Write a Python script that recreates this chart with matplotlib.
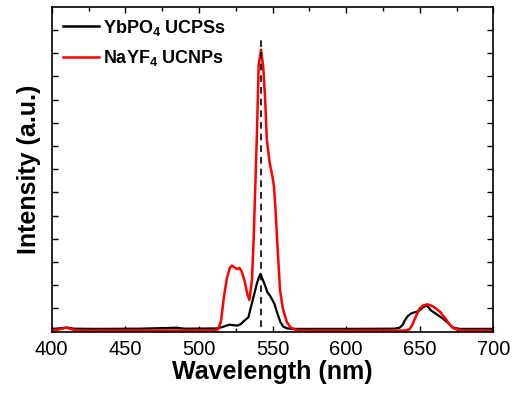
import numpy as np
import matplotlib
matplotlib.use("Agg")
from matplotlib import pyplot as plt

plt.rcParams['font.family'] = ['Liberation Sans', 'DejaVu Sans']
plt.rcParams['mathtext.fontset'] = 'custom'
plt.rcParams['mathtext.rm'] = 'Liberation Sans'
plt.rcParams['mathtext.bf'] = 'Liberation Sans:bold'

# YbPO4 UCPSs spectrum (black)
ybpo4_wl = [400, 405, 410, 415, 430, 460, 485, 490, 512, 516, 519, 521, 523.5, 526, 528.5,
            531.3, 533.6, 535.9, 537.5, 539.3, 540.5, 541.8, 543, 544.9, 546.5, 548.3,
            549.8, 551.3, 552.5, 554, 555.5, 557.3, 560, 565, 600, 633, 636.6, 638.5, 640,
            642, 644.6, 647, 649, 651, 652.4, 654.5, 656, 657.5, 659.2, 661, 663.8, 666,
            668.3, 670.5, 672.8, 677.4, 700]
ybpo4_int = [0.12, 0.14, 0.18, 0.13, 0.12, 0.13, 0.17, 0.13, 0.14, 0.2, 0.27, 0.3, 0.28,
             0.26, 0.33, 0.5, 0.62, 1.2, 1.6, 2.05, 2.3, 2.49, 2.3, 2.0, 1.7, 1.55, 1.38,
             1.2, 0.95, 0.65, 0.4, 0.22, 0.14, 0.12, 0.12, 0.13, 0.18, 0.3, 0.5, 0.68, 0.8,
             0.84, 0.88, 0.98, 1.06, 1.12, 1.05, 0.92, 0.85, 0.77, 0.65, 0.55, 0.43, 0.3,
             0.17, 0.12, 0.12]

# NaYF4 UCNPs spectrum (red)
nayf4_wl = [400, 405, 410, 415, 420, 510, 513, 515, 517, 519, 521, 522.5, 524, 526, 527.5,
            529, 531, 533, 534.3, 536, 537.2, 539.3, 540.6, 542.2, 543.7, 545, 546.1, 548,
            549.9, 551, 552, 553.1, 554, 555.1, 557, 559.6, 562, 566, 570, 640, 643, 645, 647,
            650, 652, 654.8, 657, 659.2, 661, 663.8, 666, 668.3, 670, 672.8, 677, 680, 700]
nayf4_int = [0.05, 0.1, 0.17, 0.08, 0.05, 0.05, 0.1, 0.45, 1.5, 2.3, 2.75, 2.85, 2.78, 2.7,
             2.75, 2.6, 2.2, 1.6, 1.37, 2.2, 4.0, 8.3, 11.5, 12.15, 11.4, 10.0, 8.3, 7.3,
             6.7, 6.25, 5.3, 4.0, 3.0, 1.8, 1.0, 0.43, 0.2, 0.07, 0.05, 0.05, 0.1, 0.3, 0.6,
             1.0, 1.12, 1.18, 1.15, 1.08, 1.0, 0.86, 0.68, 0.5, 0.33, 0.15, 0.07, 0.05, 0.05]

peak_wl = 542

fig = plt.figure(figsize=(5.12, 3.98), dpi=100)
ax = fig.add_axes([0.101, 0.1666, 0.8625, 0.8164])

ax.plot(ybpo4_wl, ybpo4_int, color='black', lw=1.6, label=r'YbPO$_{\mathbf{4}}$ UCPSs')
ax.plot(nayf4_wl, nayf4_int, color='#ff0000', lw=1.8, label=r'NaYF$_{\mathbf{4}}$ UCNPs')
ax.plot([peak_wl, peak_wl], [0.2, 12.6], color='black', lw=1.2, ls=(0, (4, 3)))

ax.set_xlim(400, 700)
ax.set_ylim(0, 14)
ax.set_xticks(np.arange(400, 701, 50))
ax.set_xticks(np.arange(425, 700, 50), minor=True)
ax.set_yticks(np.arange(1, 14, 1))
ax.set_yticklabels([])
ax.tick_params(which='both', direction='in', top=True, right=True, width=1.0)
ax.tick_params(which='major', length=4, labelsize=14.5, pad=6)
ax.tick_params(which='minor', length=3)
for s in ax.spines.values():
    s.set_linewidth(1.2)

ax.set_xlabel('Wavelength (nm)', fontsize=18, fontweight='bold', labelpad=1)
ax.set_ylabel('Intensity (a.u.)', fontsize=18, fontweight='bold', labelpad=1.5)

leg = ax.legend(loc='upper left', frameon=False, prop={'size': 13, 'weight': 'bold'},
                handlelength=2.0, handletextpad=0.25, labelspacing=0.6,
                borderaxespad=0.2, borderpad=0.4)
for line in leg.get_lines():
    line.set_linewidth(1.8)

fig.savefig('out.png', dpi=100)
